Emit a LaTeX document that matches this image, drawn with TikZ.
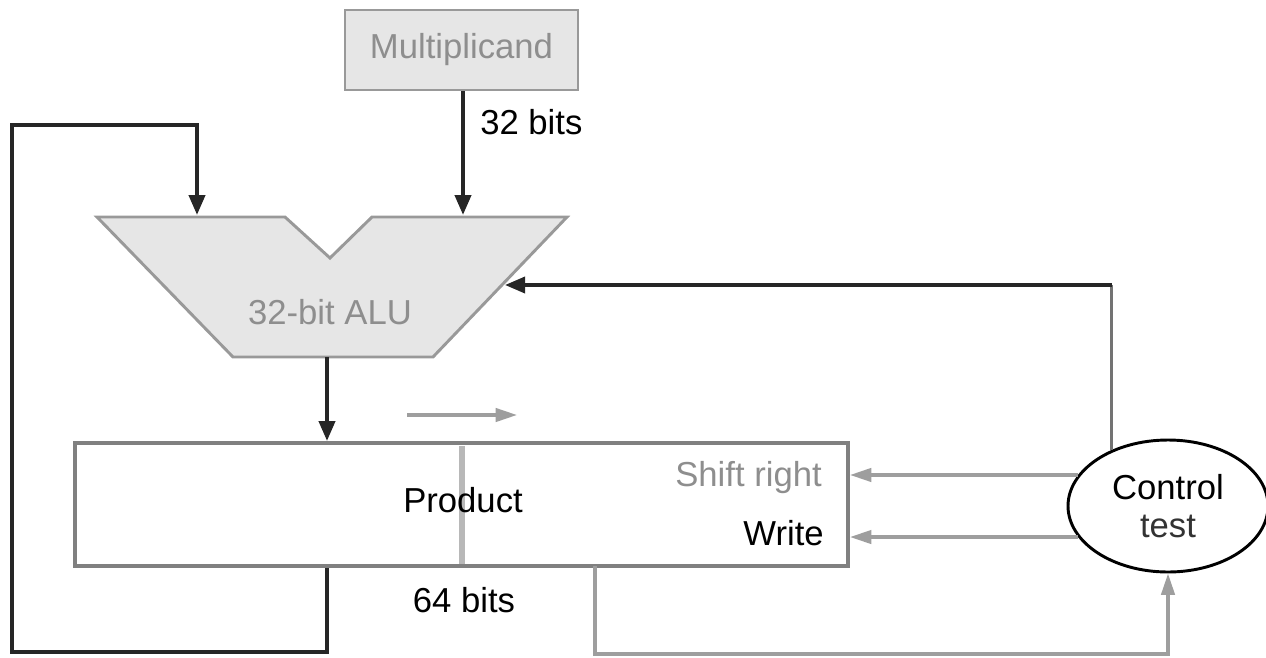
\documentclass[tikz,border=0pt]{standalone}
\usepackage{fontspec}
\setmainfont{Liberation Sans}
\usetikzlibrary{arrows.meta,shapes.geometric}
\definecolor{boxgray}{HTML}{E6E6E6}
\definecolor{edgegray}{HTML}{999999}
\definecolor{txtgray}{HTML}{8E8E8E}
\definecolor{linegray}{HTML}{9E9E9E}
\definecolor{prodedge}{HTML}{808080}
\begin{document}
\begin{tikzpicture}[x=0.75pt,y=-0.75pt,
  font=\fontsize{26}{30}\selectfont,
  tip/.style={-{Triangle[length=15pt,width=12pt]}},
  gtip/.style={-{Triangle[length=16pt,width=10pt]}},
  blk/.style={line width=3pt, draw=black!85},
  gryline/.style={line width=2.4pt, draw=linegray},
  lbl/.style={inner sep=0pt}]
\useasboundingbox (0,0) rectangle (1266,657);

% Multiplicand
\node[draw=edgegray, fill=boxgray, line width=2pt, minimum width=174.75pt,
      minimum height=60pt, text=txtgray] (mult) at (461.5,50) {Multiplicand};
\node[lbl, anchor=west] (b32) at (480,122) {32 bits};

% ALU
\filldraw[fill=boxgray, draw=edgegray, line width=2.2pt]
  (97,217) -- (285,217) -- (330,258) -- (372,217) -- (567,217)
  -- (433,357) -- (233,357) -- cycle;
\node[lbl, text=txtgray] (alu) at (330,312) {32-bit ALU};
\coordinate (aluA) at (197,215);
\coordinate (aluB) at (463,215);
\coordinate (aluOut) at (327,357);
\coordinate (aluCtl) at (505,285);

% Product register
\node[draw=prodedge, line width=3pt, minimum width=579.75pt, minimum height=92.25pt]
  (prod) at (461.5,504.5) {};
\draw[line width=4.5pt, draw=black!28] (462,446) -- (462,564);
\node[lbl] (ptxt) at (463,500) {Product};
\node[lbl, anchor=east, text=txtgray] (shr) at (822,478) {Shift right};
\node[lbl, anchor=east] (wr) at (824,533) {Write};
\node[lbl] (b64) at (464,600) {64 bits};
\coordinate (sa) at (407,415);
\coordinate (sb) at (517,415);
\draw[gryline, gtip] (sa) -- (sb);

% Control
\node[draw=black, line width=2.2pt, ellipse, minimum width=150pt, minimum height=99pt,
      align=center, inner sep=0pt] (ctl) at (1168,506)
  {Control\\[-1pt]\textcolor{black!80}{test}};

% connectors
\draw[blk, tip] (mult.south -| aluB) -- (aluB);
\draw[blk, tip] (aluOut) -- (aluOut |- prod.north);
\coordinate (l1) at (327,652);
\coordinate (l2) at (12,652);
\coordinate (l3) at (12,125);
\coordinate (l4) at (197,125);
\draw[blk, tip] (aluOut |- prod.south) -- (l1) -- (l2) -- (l3) -- (l4) -- (aluA);

\draw[gryline, gtip] (ctl.161) -- (ctl.161 -| prod.east);
\draw[gryline, gtip] (ctl.199) -- (ctl.199 -| prod.east);

\coordinate (turn) at (ctl.135 |- aluCtl);
\draw[gryline, draw=black!55] (ctl.135) -- (turn);
\draw[blk, line width=2.6pt, tip] (turn) -- (aluCtl);

\coordinate (p1) at (595,566);
\coordinate (p2) at (595,654);
\draw[gryline, gtip] (p1) -- (p2) -| (ctl.south);
\end{tikzpicture}
\end{document}
